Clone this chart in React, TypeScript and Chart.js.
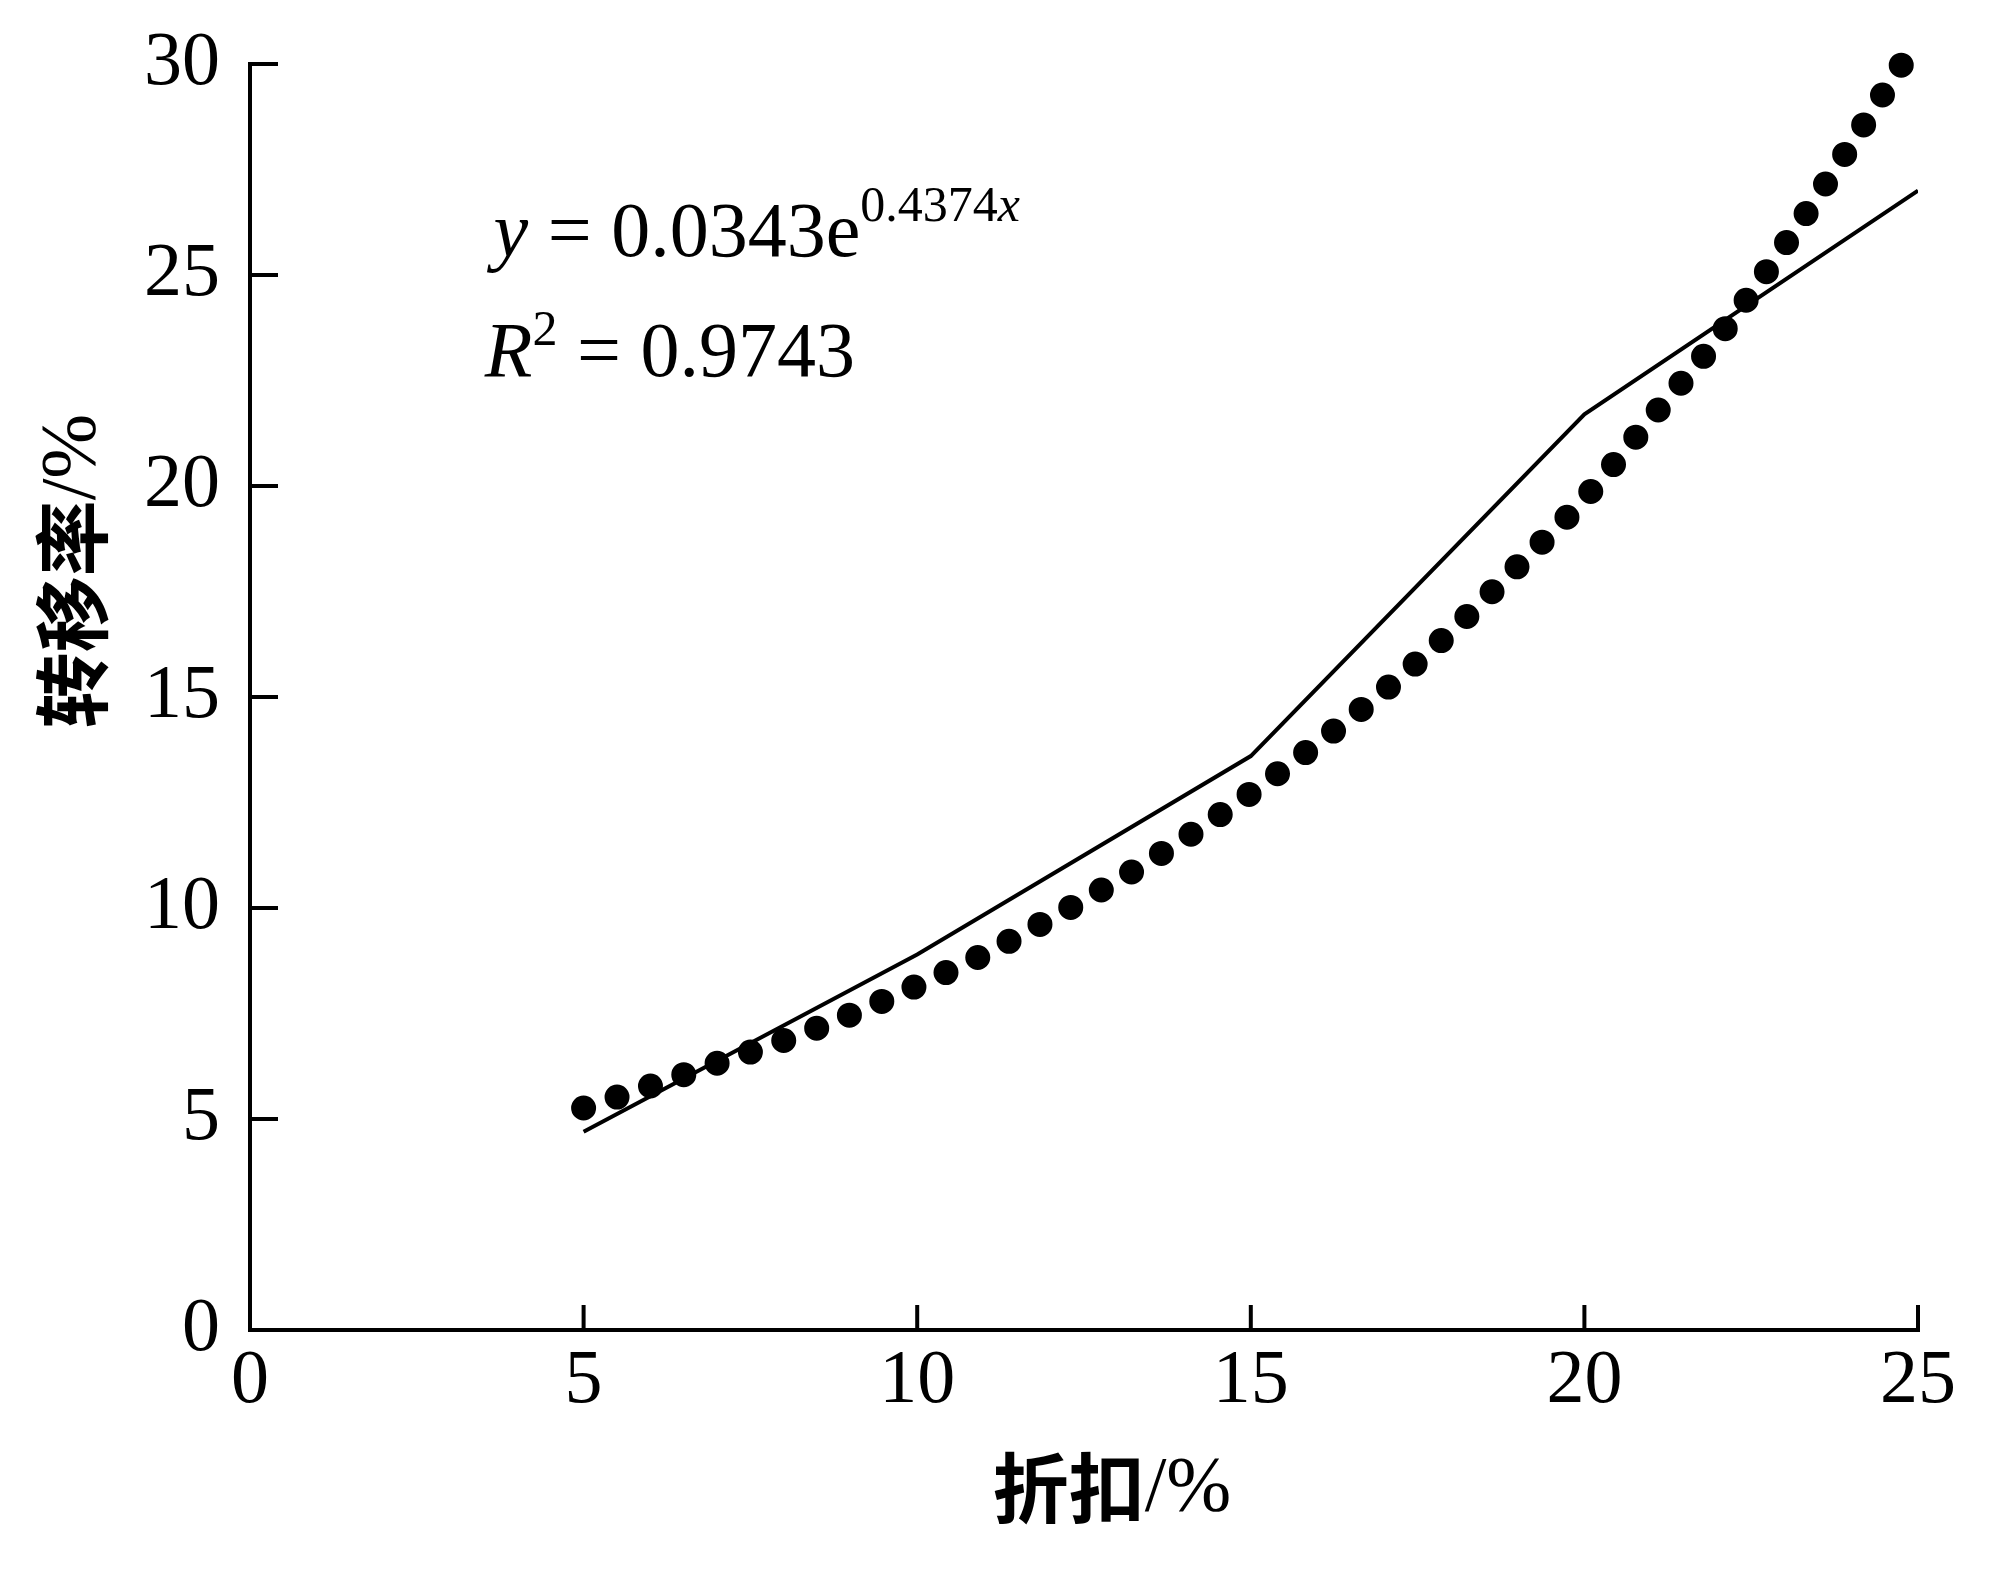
import React, { useEffect, useRef } from "react";
import { Chart, registerables } from "chart.js";

Chart.register(...registerables);

const SERIF = '"Liberation Serif", "Times New Roman", serif';
const CJK = '"Noto Sans CJK SC", sans-serif';

// axis ticks
const xTicks = [0, 5, 10, 15, 20, 25];
const yTicks = [0, 5, 10, 15, 20, 25, 30];

// measured values (solid line)
const discount = [5, 10, 15, 20, 25];
const transferRate = [4.7, 8.9, 13.6, 21.7, 27.0];

// fitted trend (dotted line)
const trendX = [5, 6, 7, 8, 9, 10, 11, 12, 13, 14, 15, 16, 17, 18, 19, 20, 21, 22, 23, 24, 24.8];
const trendY = [5.26, 5.78, 6.32, 6.86, 7.47, 8.16, 8.9, 9.75, 10.65, 11.64, 12.72, 13.9, 15.15, 16.55, 18.1, 19.7, 21.6, 23.5, 25.7, 28.1, 30.1];

// titles: [chinese part, unit part]
const xTitle = ["折扣", "/%"];
const yTitle = ["转移率", "/%"];
const equation = { coef: "0.0343", exp: "0.4374", r2: "0.9743" };

// draws a title centred on (0,0) in the current transform
function drawTitle(ctx: CanvasRenderingContext2D, parts: string[]) {
  const cjkFont = `bold 76px ${CJK}`;
  const unitFont = `78px ${SERIF}`;
  ctx.font = cjkFont;
  const w1 = ctx.measureText(parts[0]).width;
  ctx.font = unitFont;
  const w2 = ctx.measureText(parts[1]).width;
  const start = -(w1 + w2) / 2;
  ctx.textAlign = "left";
  ctx.textBaseline = "middle";
  ctx.font = cjkFont;
  ctx.fillText(parts[0], start, 0);
  ctx.font = unitFont;
  ctx.fillText(parts[1], start + w1, 2);
}

const decorPlugin = {
  id: "decor",
  afterDraw(chart: any) {
    const { ctx, chartArea } = chart;
    const xs = chart.scales.x;
    const ys = chart.scales.y;
    ctx.save();
    ctx.strokeStyle = "#000";
    ctx.fillStyle = "#000";
    ctx.lineWidth = 4;
    ctx.lineCap = "butt";

    // inward tick marks
    xTicks.forEach((v) => {
      if (v === 0) return;
      const px = xs.getPixelForValue(v);
      ctx.beginPath();
      ctx.moveTo(px, chartArea.bottom + 2);
      ctx.lineTo(px, chartArea.bottom - 25);
      ctx.stroke();
    });
    yTicks.forEach((v) => {
      if (v === 0) return;
      const py = ys.getPixelForValue(v);
      ctx.beginPath();
      ctx.moveTo(chartArea.left - 2, py);
      ctx.lineTo(chartArea.left + 28, py);
      ctx.stroke();
    });

    // axis titles
    ctx.save();
    ctx.translate(chartArea.left + 862, chartArea.bottom + 158);
    drawTitle(ctx, xTitle);
    ctx.restore();
    ctx.save();
    ctx.translate(chartArea.left - 178, chartArea.top + 507);
    ctx.rotate(-Math.PI / 2);
    drawTitle(ctx, yTitle);
    ctx.restore();

    // fit equation
    ctx.textAlign = "left";
    ctx.textBaseline = "alphabetic";
    const big = 78;
    const small = 50;
    const raise = 35;
    let x = xs.getPixelForValue(3.65);
    let base = ys.getPixelForValue(25.45);
    const draw = (t: string, size: number, italic: boolean, dy = 0) => {
      ctx.font = `${italic ? "italic " : ""}${size}px ${SERIF}`;
      ctx.fillText(t, x, base - dy);
      x += ctx.measureText(t).width;
    };
    draw("y", big, true);
    draw(` = ${equation.coef}e`, big, false);
    draw(equation.exp, small, false, raise);
    draw("x", small, true, raise);

    x = xs.getPixelForValue(3.52);
    base = ys.getPixelForValue(22.6);
    draw("R", big, true);
    draw("2", small, false, raise - 4);
    draw(` = ${equation.r2}`, big, false);

    ctx.restore();
  },
};

export default function App() {
  const canvasRef = useRef<HTMLCanvasElement | null>(null);
  const chartRef = useRef<Chart | null>(null);

  useEffect(() => {
    if (!canvasRef.current) return;
    if (chartRef.current) chartRef.current.destroy();

    chartRef.current = new Chart(canvasRef.current, {
      type: "line",
      data: {
        datasets: [
          {
            label: "trend",
            data: trendX.map((x, i) => ({ x, y: trendY[i] })),
            borderColor: "#000",
            borderWidth: 25,
            borderDash: [0, 35.2],
            borderCapStyle: "round",
            borderJoinStyle: "round",
            pointRadius: 0,
            cubicInterpolationMode: "monotone",
            fill: false,
            clip: false,
          },
          {
            label: "measured",
            data: discount.map((x, i) => ({ x, y: transferRate[i] })),
            borderColor: "#000",
            borderWidth: 4,
            pointRadius: 0,
            tension: 0,
            fill: false,
          },
        ],
      },
      options: {
        responsive: true,
        maintainAspectRatio: false,
        animation: false,
        events: [],
        layout: { padding: { top: 64, right: 84, left: 0, bottom: 0 } },
        plugins: {
          legend: { display: false },
          tooltip: { enabled: false },
        },
        scales: {
          x: {
            type: "linear",
            min: 0,
            max: 25,
            afterFit: (s: any) => {
              s.height = 239;
            },
            ticks: {
              stepSize: 5,
              autoSkip: false,
              maxRotation: 0,
              padding: 6,
              color: "#000",
              font: { family: SERIF, size: 76 },
            },
            grid: { display: false, drawTicks: false },
            border: { display: true, color: "#000", width: 4 },
          },
          y: {
            type: "linear",
            min: 0,
            max: 30,
            afterFit: (s: any) => {
              s.width = 250;
              s.paddingTop = 0;
              s.paddingBottom = 0;
            },
            ticks: {
              stepSize: 5,
              autoSkip: false,
              padding: 30,
              color: "#000",
              font: { family: SERIF, size: 76 },
            },
            grid: { display: false, drawTicks: false },
            border: { display: true, color: "#000", width: 4 },
          },
        },
      },
      plugins: [decorPlugin],
    });

    return () => {
      if (chartRef.current) {
        chartRef.current.destroy();
        chartRef.current = null;
      }
    };
  }, []);

  return (
    <div style={{ position: "absolute", left: 0, top: 0, width: 2002, height: 1569, background: "#fff" }}>
      <canvas ref={canvasRef} />
    </div>
  );
}
